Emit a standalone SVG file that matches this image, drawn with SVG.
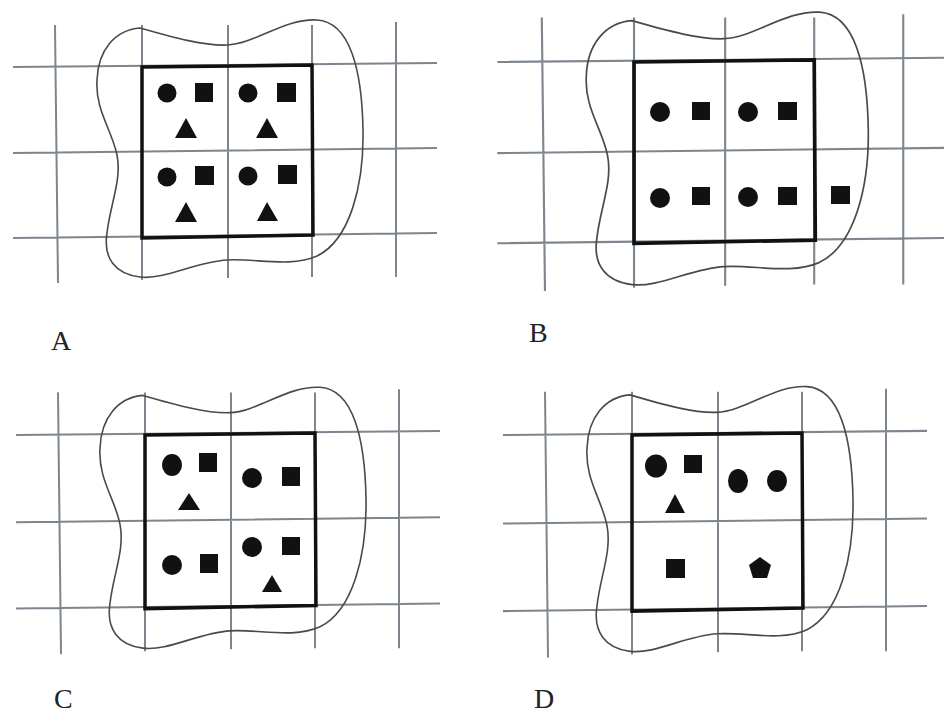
<svg xmlns="http://www.w3.org/2000/svg" xmlns:xlink="http://www.w3.org/1999/xlink" width="944" height="713" viewBox="0 0 944 713">
<style>
.grid{stroke:#7d858e;stroke-width:2;fill:none}
.blob{stroke:#4a4a4a;stroke-width:1.6;fill:none}
.box{stroke:#111;stroke-width:3.5;fill:none;stroke-linejoin:miter}
.s{fill:#111}
.lbl{font-family:"Liberation Serif","Times New Roman",serif;font-size:28px;fill:#222}
</style>
<defs>
<g id="frame">
<path class="grid" d="M55,25 L58,283 M142,25 L142,280 M228,25 L228,278 M312,25 L312,277 M396,22 L396,277 M13,67 L437,63 M13,153 L437,148 M13,238 L437,233"/>
<path class="blob" d="M140,28 C175,38 205,46 227,45 C255,44 285,18 317,20 C350,22 362,70 363,130 C364,185 350,240 317,256 C290,268 255,258 227,260 C195,262 165,280 140,277 C115,274 103,258 107,233 C110,205 122,180 117,155 C112,130 95,110 97,80 C98,50 115,30 140,28 Z"/>
<polygon class="box" points="142,67 312,65 313,235 142,238"/>
</g>
</defs>
<g id="panelA">
<use xlink:href="#frame"/>
<circle class="s" cx="167" cy="93" r="9.5"/>
<circle class="s" cx="248" cy="93" r="9.5"/>
<circle class="s" cx="167" cy="177" r="9.5"/>
<circle class="s" cx="248" cy="176" r="9.5"/>
<rect class="s" x="195" y="83" width="18" height="19"/>
<rect class="s" x="277" y="83" width="19" height="19"/>
<rect class="s" x="195" y="166" width="19" height="19"/>
<rect class="s" x="278" y="165" width="19" height="19"/>
<polygon class="s" points="186,118 175,138 197,138"/>
<polygon class="s" points="267,118 256,138 278,138"/>
<polygon class="s" points="186,202 175,222 197,222"/>
<polygon class="s" points="267,202 257,221 278,221"/>
<text class="lbl" x="51" y="350">A</text>
</g>
<g id="panelB">
<use xlink:href="#frame" transform="translate(483.5,-9) scale(1.06)"/>
<circle class="s" cx="660" cy="112" r="10"/>
<circle class="s" cx="748" cy="112" r="10"/>
<circle class="s" cx="660" cy="198" r="10"/>
<circle class="s" cx="748" cy="197" r="10"/>
<rect class="s" x="692" y="102" width="18" height="18"/>
<rect class="s" x="778" y="102" width="19" height="18"/>
<rect class="s" x="692" y="187" width="18" height="18"/>
<rect class="s" x="778" y="187" width="19" height="18"/>
<rect class="s" x="831" y="186" width="19" height="18"/>
<text class="lbl" x="529" y="342">B</text>
</g>
<g id="panelC">
<use xlink:href="#frame" transform="translate(3,367) scale(1,1.015)"/>
<ellipse class="s" cx="172" cy="465" rx="10" ry="11"/>
<circle class="s" cx="252" cy="478" r="10"/>
<circle class="s" cx="172" cy="565" r="10"/>
<circle class="s" cx="252" cy="547" r="10"/>
<rect class="s" x="199" y="453" width="18" height="19"/>
<rect class="s" x="282" y="467" width="18" height="19"/>
<rect class="s" x="200" y="554" width="18" height="19"/>
<rect class="s" x="282" y="537" width="18" height="18"/>
<polygon class="s" points="189,493 178,510 200,510"/>
<polygon class="s" points="272,575 262,592 282,592"/>
<text class="lbl" x="54" y="708">C</text>
</g>
<g id="panelD">
<use xlink:href="#frame" transform="translate(490,366) scale(1,1.03)"/>
<ellipse class="s" cx="656" cy="466" rx="11" ry="11.5"/>
<rect class="s" x="684" y="455" width="18" height="18"/>
<polygon class="s" points="675,494 665,513 685,513"/>
<ellipse class="s" cx="738" cy="481" rx="10" ry="12"/>
<ellipse class="s" cx="777" cy="481" rx="10" ry="11"/>
<rect class="s" x="666" y="559" width="19" height="19"/>
<polygon class="s" points="760,557 771,565 767,578 753,578 749,565"/>
<text class="lbl" x="534" y="708">D</text>
</g>
</svg>
